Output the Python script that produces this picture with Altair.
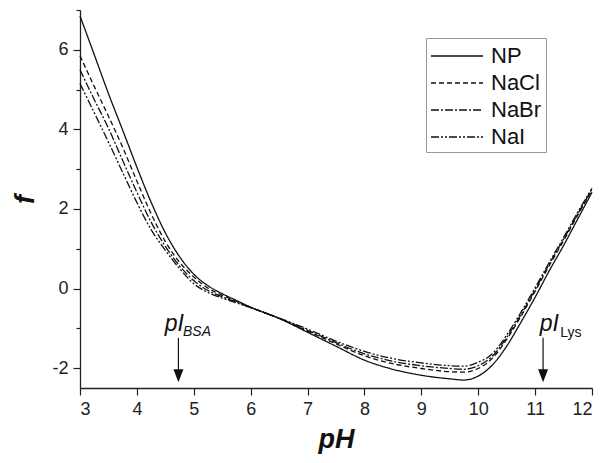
import altair as alt
import pandas as pd

# ---- data ----
ph = [3.0, 3.25, 3.5, 3.75, 4.0, 4.25, 4.5, 4.75, 5.0, 5.25, 5.5, 5.75, 6.0,
      6.5, 7.0, 7.5, 8.0, 8.5, 9.0, 9.5, 9.75, 10.0, 10.25, 10.5, 10.75,
      11.0, 11.25, 11.5, 11.75, 12.0]
f_np = [6.85, 5.88, 4.90, 3.98, 3.05, 2.17, 1.40, 0.80, 0.36, 0.07, -0.13, -0.30, -0.47,
        -0.75, -1.10, -1.45, -1.80, -2.03, -2.18, -2.27, -2.30, -2.20, -1.92, -1.45, -0.85,
        -0.22, 0.45, 1.08, 1.75, 2.42]
f_nacl = [5.85, 5.08, 4.33, 3.55, 2.70, 1.88, 1.18, 0.66, 0.29, 0.01, -0.17, -0.32, -0.47,
          -0.75, -1.07, -1.39, -1.69, -1.89, -2.01, -2.09, -2.10, -2.01, -1.75, -1.28, -0.70,
          -0.07, 0.58, 1.20, 1.85, 2.47]
f_nabr = [5.50, 4.75, 4.03, 3.22, 2.42, 1.67, 1.06, 0.57, 0.20, -0.05, -0.21, -0.34, -0.48,
          -0.75, -1.05, -1.36, -1.64, -1.83, -1.94, -2.01, -2.03, -1.94, -1.70, -1.23, -0.66,
          -0.03, 0.62, 1.24, 1.88, 2.50]
f_nai = [5.15, 4.42, 3.68, 2.92, 2.16, 1.48, 0.96, 0.50, 0.12, -0.10, -0.24, -0.36, -0.48,
         -0.74, -1.02, -1.32, -1.58, -1.76, -1.87, -1.94, -1.95, -1.85, -1.64, -1.17, -0.60,
         0.02, 0.66, 1.28, 1.92, 2.52]

series_names = ["NP", "NaCl", "NaBr", "NaI"]
series_values = [f_np, f_nacl, f_nabr, f_nai]
series_dashes = [[1, 0], [5, 3], [8, 2, 2, 2], [8, 2, 2, 2, 2, 2]]

x_ticks = [3 + 0.5 * i for i in range(19)]
y_ticks = [-2, -1, 0, 1, 2, 3, 4, 5, 6, 7]

# annotations: arrows at the isoelectric points
arrow_ph = [4.73, 11.14]
arrow_top = [-1.24, -1.24]
arrow_bottom = [-2.05, -2.05]
head_f = [-2.19, -2.19]
main_text = ["pI", "pI"]
main_ph = [4.49, 11.08]
main_f = [-1.08, -1.08]
sub_text = ["BSA", "Lys"]
sub_ph = [4.81, 11.44]
sub_f = [-1.19, -1.21]
sub_style = ["italic", "normal"]

FONT = "Liberation Sans"

rows = []
for name, vals in zip(series_names, series_values):
    for x, y in zip(ph, vals):
        rows.append({"pH": x, "f": y, "series": name})
df = pd.DataFrame(rows)

xs = alt.Scale(domain=[3, 12], nice=False, zero=False)
ys = alt.Scale(domain=[-2.5, 7], nice=False, zero=False)

lines = alt.Chart(df).mark_line(color="#111", strokeWidth=1.3, interpolate="monotone").encode(
    x=alt.X("pH:Q", scale=xs,
            axis=alt.Axis(values=x_ticks, title="pH",
                          labelExpr="datum.value % 1 === 0 ? '' + datum.value : ''",
                          tickSize={"condition": {"test": "datum.value % 1 === 0", "value": 7}, "value": 4},
                          labelOverlap=False, labelPadding=5, titlePadding=8,
                          titleFontSize=27, titleFontStyle="italic", titleFontWeight="bold")),
    y=alt.Y("f:Q", scale=ys,
            axis=alt.Axis(values=y_ticks, title="f",
                          labelExpr="datum.value % 2 === 0 ? '' + datum.value : ''",
                          tickSize={"condition": {"test": "datum.value % 2 === 0", "value": 7}, "value": 4},
                          labelOverlap=False, labelPadding=5, titlePadding=12,
                          titleFontSize=27, titleFontStyle="italic", titleFontWeight="bold")),
    strokeDash=alt.StrokeDash("series:N",
                              scale=alt.Scale(domain=series_names, range=series_dashes),
                              sort=series_names,
                              legend=alt.Legend(title=None, orient="none", legendX=346, legendY=28,
                                                symbolType="M-1,0H3", symbolSize=676,
                                                symbolStrokeWidth=1.3, symbolStrokeColor="#111",
                                                symbolFillColor="transparent",
                                                labelFontSize=22, labelFont=FONT, labelColor="#111",
                                                labelOffset=33, rowPadding=2, padding=4,
                                                strokeColor="#999", fillColor="white")),
    order=alt.Order("pH:Q"),
)

ann = pd.DataFrame({"pH": arrow_ph, "top": arrow_top, "bottom": arrow_bottom, "head": head_f,
                    "mt": main_text, "mph": main_ph, "mf": main_f,
                    "st": sub_text, "sph": sub_ph, "sf": sub_f, "sstyle": sub_style})

shaft = alt.Chart(ann).mark_rule(color="#111", strokeWidth=1.2).encode(
    x=alt.X("pH:Q", scale=xs), y=alt.Y("top:Q", scale=ys), y2="bottom:Q")
head = alt.Chart(ann).mark_point(shape="M-1,-1.3L1,-1.3L0,1.3Z", filled=True, color="#111",
                                 size=100, opacity=1).encode(
    x=alt.X("pH:Q", scale=xs), y=alt.Y("head:Q", scale=ys))
txt_main = alt.Chart(ann).mark_text(align="left", baseline="alphabetic", fontSize=23,
                                    fontStyle="italic", font=FONT, color="#111").encode(
    x=alt.X("mph:Q", scale=xs), y=alt.Y("mf:Q", scale=ys), text="mt:N")
txt_sub_it = alt.Chart(ann).transform_filter("datum.sstyle == 'italic'").mark_text(
    align="left", baseline="alphabetic", fontSize=14, fontStyle="italic", font=FONT, color="#111").encode(
    x=alt.X("sph:Q", scale=xs), y=alt.Y("sf:Q", scale=ys), text="st:N")
txt_sub_up = alt.Chart(ann).transform_filter("datum.sstyle == 'normal'").mark_text(
    align="left", baseline="alphabetic", fontSize=14, font=FONT, color="#111").encode(
    x=alt.X("sph:Q", scale=xs), y=alt.Y("sf:Q", scale=ys), text="st:N")

chart = alt.layer(lines, shaft, head, txt_main, txt_sub_it, txt_sub_up).properties(
    width=512, height=378,
    autosize=alt.AutoSizeParams(type="none"),
    padding={"left": 80, "top": 10, "right": 8, "bottom": 75},
).configure_view(stroke=None).configure_axis(
    grid=False, domainColor="#222", domainWidth=1.3, tickColor="#222", tickWidth=1.2,
    labelFont=FONT, labelFontSize=18, labelColor="#222",
    titleFont=FONT, titleColor="#111",
)

chart.save("out.html", embed_options={"renderer": "svg", "actions": False})
